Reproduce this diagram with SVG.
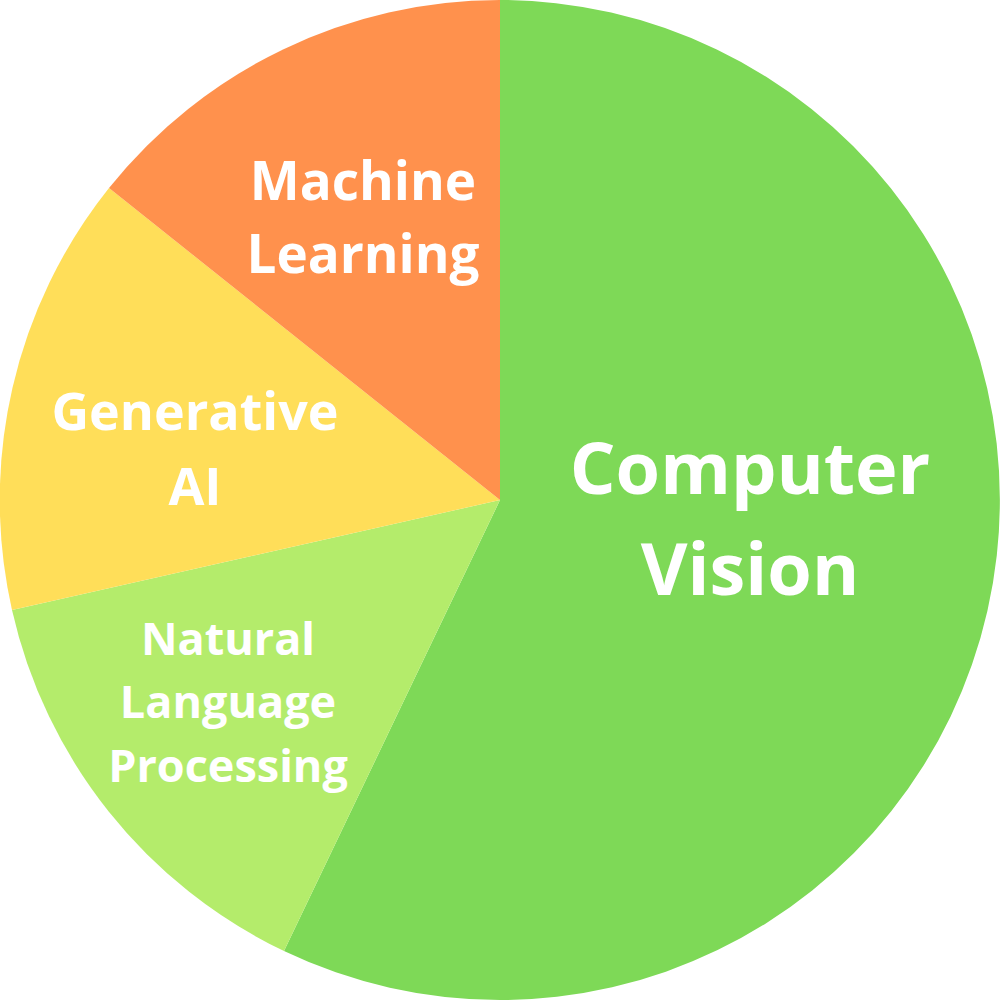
<svg xmlns="http://www.w3.org/2000/svg" width="1000" height="1000" viewBox="0 0 1000 1000">
<style>
.lbl{font-family:"Open Sans","Liberation Sans",sans-serif;font-weight:700;fill:#ffffff;text-anchor:middle}
</style>
<rect width="1000" height="1000" fill="#ffffff"/>
<g id="cv"><path d="M500,500 L500,0 A500,500 0 1 1 284,951 Z" fill="#7ED957"/>
<text class="lbl" x="750" y="494" font-size="72">Computer</text><text class="lbl" x="750" y="595" font-size="72">Vision</text></g>
<g id="nlp"><path d="M500,500 L284,951 A500,500 0 0 1 12,610 Z" fill="#B4EC6B"/>
<text class="lbl" x="228" y="655" font-size="45">Natural</text><text class="lbl" x="228" y="718" font-size="45">Language</text><text class="lbl" x="228" y="782" font-size="45">Processing</text></g>
<g id="genai"><path d="M500,500 L12,610 A500,500 0 0 1 109,188 Z" fill="#FFDE59"/>
<text class="lbl" x="195" y="430" font-size="52">Generative</text><text class="lbl" x="195" y="505" font-size="52">AI</text></g>
<g id="ml"><path d="M500,500 L109,188 A500,500 0 0 1 500,0 Z" fill="#FF914D"/>
<text class="lbl" x="363" y="200" font-size="53">Machine</text><text class="lbl" x="363" y="273" font-size="53">Learning</text></g>
</svg>
